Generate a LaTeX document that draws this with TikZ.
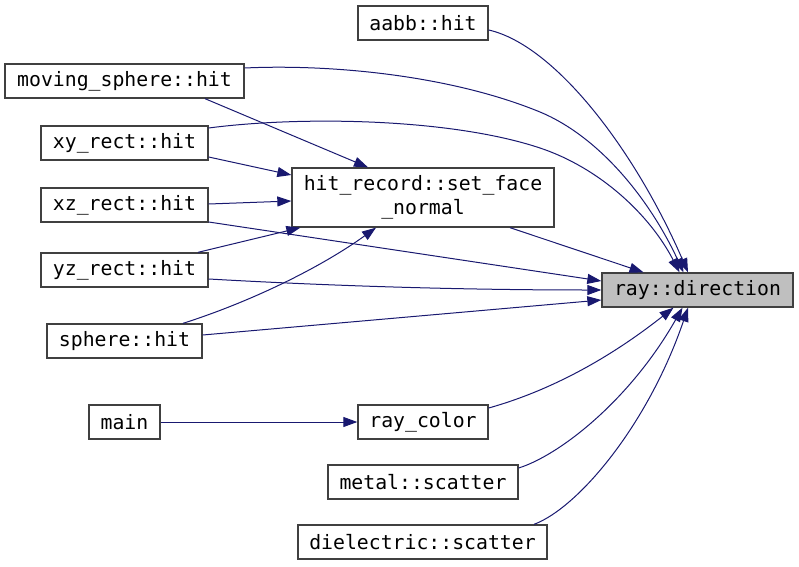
\documentclass[tikz,border=0pt]{standalone}
\usepackage{fontspec}
\setmonofont{DejaVu Sans Mono}
\usetikzlibrary{arrows.meta}
\definecolor{edgeblue}{HTML}{191970}
\definecolor{boxgray}{HTML}{404040}
\definecolor{curfill}{HTML}{BFBFBF}
\begin{document}
\begin{tikzpicture}[
  x=0.75pt, y=-0.75pt,
  fn/.style={draw=boxgray, line width=1pt, rectangle, minimum height=25.5pt,
    inner sep=0pt, align=center, font=\ttfamily\fontsize{14.85}{18}\selectfont},
  wd/.style={minimum width=#1*0.75pt},
  call/.style={edgeblue, line width=0.75pt, -{Triangle[length=10.5pt,width=7.5pt]}}
]
\useasboundingbox (0,0) rectangle (799,567);
% callers
\node[fn, wd=130] (aabb) at (423,23) {aabb::hit};
\node[fn, wd=239] (ms) at (124.5,81) {moving\_sphere::hit};
\node[fn, wd=167] (xy) at (124.5,143) {xy\_rect::hit};
\node[fn, wd=167] (xz) at (124.5,205) {xz\_rect::hit};
\node[fn, wd=167] (yz) at (124.5,270) {yz\_rect::hit};
\node[fn, wd=155] (sph) at (124.5,341) {sphere::hit};
\node[fn, wd=71] (main) at (124.5,422) {main};
\node[fn, wd=262, minimum height=44.25pt] (hr) at (423,197.5) {hit\_record::set\_face\\\_normal};
\node[fn, wd=130] (rc) at (423,422) {ray\_color};
\node[fn, wd=190] (metal) at (423,482) {metal::scatter};
\node[fn, wd=249] (diel) at (422.5,542) {dielectric::scatter};
% callee
\node[fn, wd=191, fill=curfill] (rd) at (697.5,290) {ray::direction};
% calls into ray::direction from above
\draw[call] ([shift={(0,7)}]aabb.east) .. controls (555,45) and (635,150) .. ([shift={(-9.5,0)}]rd.north);
\draw[call] ([shift={(0,-13)}]ms.east) .. controls (330,64) and (450,75) .. (540,112)
  .. controls (600,137) and (650,200) .. ([shift={(-14,0)}]rd.north);
\draw[call] ([shift={(0,-15)}]xy.east) .. controls (300,116) and (450,118) .. (540,148)
  .. controls (600,168) and (650,215) .. ([shift={(-18,0)}]rd.north);
\draw[call] ([shift={(87,0)}]hr.south) -- ([shift={(-54,0)}]rd.north);
% calls into hit_record::set_face_normal
\draw[call] ([shift={(80.5,0)}]ms.south) -- ([shift={(-55,0)}]hr.north);
\draw[call] ([shift={(0,14)}]xy.east) -- ([shift={(0,-22.5)}]hr.west);
\draw[call] ([shift={(0,-1)}]xz.east) -- ([shift={(0,3.5)}]hr.west);
\draw[call] ([shift={(73.5,0)}]yz.north) -- ([shift={(9,0)}]hr.south west);
\draw[call] ([shift={(58.5,0)}]sph.north) .. controls (250,302) and (320,268) .. ([shift={(-47,0)}]hr.south);
% calls into ray::direction from the left
\draw[call] ([shift={(0,17)}]xz.east) -- ([shift={(0,-9)}]rd.west);
\draw[call] ([shift={(0,9)}]yz.east) .. controls (350,287) and (480,290) .. (rd.west);
\draw[call] ([shift={(0,-6)}]sph.east) -- ([shift={(0,10)}]rd.west);
% lower part
\draw[call] (main.east) -- (rc.west);
\draw[call] ([shift={(0,-14)}]rc.east) .. controls (560,388) and (620,350) .. ([shift={(-24,0)}]rd.south);
\draw[call] ([shift={(0,-14)}]metal.east) .. controls (560,455) and (630,400) .. ([shift={(-15,0)}]rd.south);
\draw[call] ([shift={(111.5,0)}]diel.north) .. controls (578,508) and (648,425) .. ([shift={(-9.5,0)}]rd.south);
\end{tikzpicture}
\end{document}
